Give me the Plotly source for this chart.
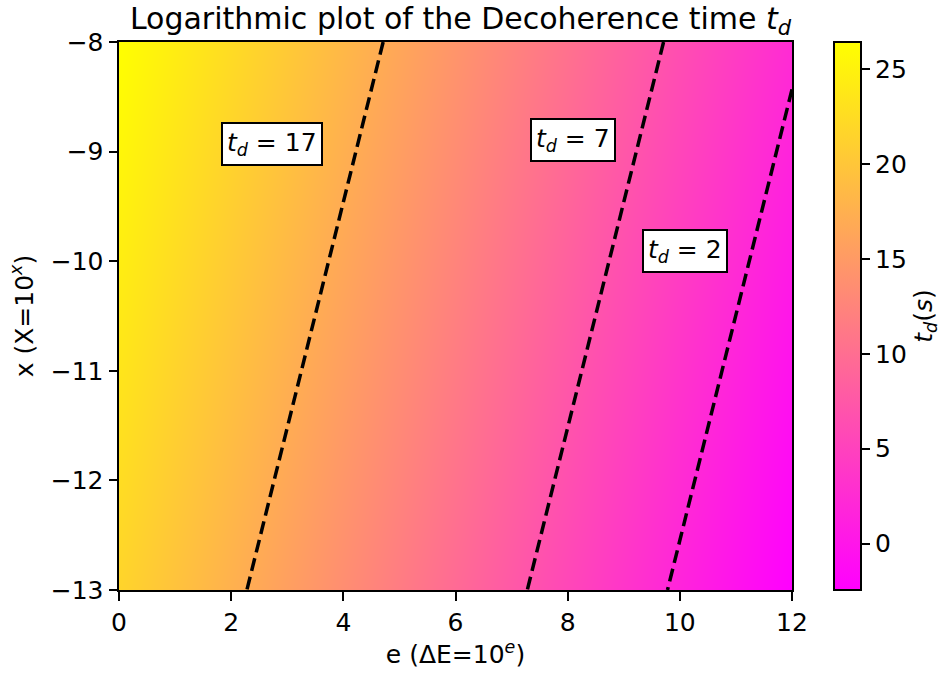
import plotly.graph_objects as go

# Data
e_vals = [0, 12]            # e (ΔE = 10^e) at the two edges
x_vals = [-13, -8]          # x (X = 10^x) at the two edges
td_corners = [              # t_d at the corners, rows follow x_vals, cols follow e_vals
    [21.56, -2.44],
    [26.42, 2.42],
]
contour_levels = [17, 7, 2]
label_text = ["17", "7", "2"]
label_e = [2.73, 8.09, 10.09]
label_x = [-8.93, -8.89, -9.91]
x_ticks = [0, 2, 4, 6, 8, 10, 12]
y_ticks = [-13, -12, -11, -10, -9, -8]
cbar_ticks = [0, 5, 10, 15, 20, 25]

FONT = "DejaVu Sans"
FS = 25
LW = 2

W, H = 975, 673            # figure slightly wider than the window; extra area is off-screen white
ML, MR, MT, MB = 119, 975 - 792, 42, 83
plot_w = W - ML - MR

spring = [[0, "rgb(255,0,255)"], [1, "rgb(255,255,0)"]]

fig = go.Figure()
fig.add_trace(go.Heatmap(
    x=e_vals, y=x_vals, z=td_corners,
    zsmooth="best", colorscale=spring,
    hoverinfo="skip",
    colorbar=dict(
        x=(833.5 - ML) / plot_w, xanchor="left", xpad=0,
        y=0.5, yanchor="middle", ypad=0,
        len=1, lenmode="fraction", thickness=27,
        outlinecolor="black", outlinewidth=LW,
        tickvals=cbar_ticks, ticks="outside", ticklen=8.5, tickwidth=LW,
        tickcolor="black", tickfont=dict(family=FONT, size=FS, color="black"),
        title=dict(text="<i>t<sub>d</sub></i>(<i>s</i>)", side="right",
                   font=dict(family=FONT, size=FS, color="black")),
    ),
))

for lev in contour_levels:
    fig.add_trace(go.Contour(
        x=e_vals, y=x_vals, z=td_corners,
        contours=dict(start=lev, end=lev, size=1, coloring="none"),
        line=dict(color="black", width=3.5, dash="13px,6px"),
        showscale=False, hoverinfo="skip",
    ))

for txt, ex, xx in zip(label_text, label_e, label_x):
    fig.add_annotation(
        x=ex, y=xx, xref="x", yref="y", showarrow=False,
        text=f"<i>t<sub>d</sub></i> = {txt}",
        font=dict(family=FONT, size=FS, color="black"),
        bgcolor="white", bordercolor="black", borderwidth=LW, borderpad=4,
        xanchor="center", yanchor="middle",
    )

axis_common = dict(
    showline=True, mirror=True, linecolor="black", linewidth=LW,
    ticks="outside", ticklen=8.5, tickwidth=LW, tickcolor="black",
    tickfont=dict(family=FONT, size=FS, color="black"),
    showgrid=False, zeroline=False,
)

fig.update_layout(
    width=W, height=H,
    margin=dict(l=ML, r=MR, t=MT, b=MB),
    paper_bgcolor="white", plot_bgcolor="white",
    font=dict(family=FONT, size=FS, color="black"),
    title=dict(text="Logarithmic plot of the Decoherence time <i>t<sub>d</sub></i>",
               x=(ML + plot_w / 2 + 5) / W, xanchor="center",
               y=1 - 18 / H, yanchor="middle", yref="container",
               font=dict(family=FONT, size=30, color="black")),
    xaxis=dict(range=[0, 12], tickvals=x_ticks,
               title=dict(text="e (ΔE=10<sup><i>e</i></sup>)", standoff=6,
                          font=dict(family=FONT, size=FS)),
               **axis_common),
    yaxis=dict(range=[-13, -8], tickvals=y_ticks,
               title=dict(text="x (X=10<sup><i>x</i></sup>)", standoff=10,
                          font=dict(family=FONT, size=FS)),
               **axis_common),
    showlegend=False,
)

fig.write_html("out.html", config={"displayModeBar": False},
               post_script="document.body.style.margin='0';document.body.style.overflow='hidden';")
